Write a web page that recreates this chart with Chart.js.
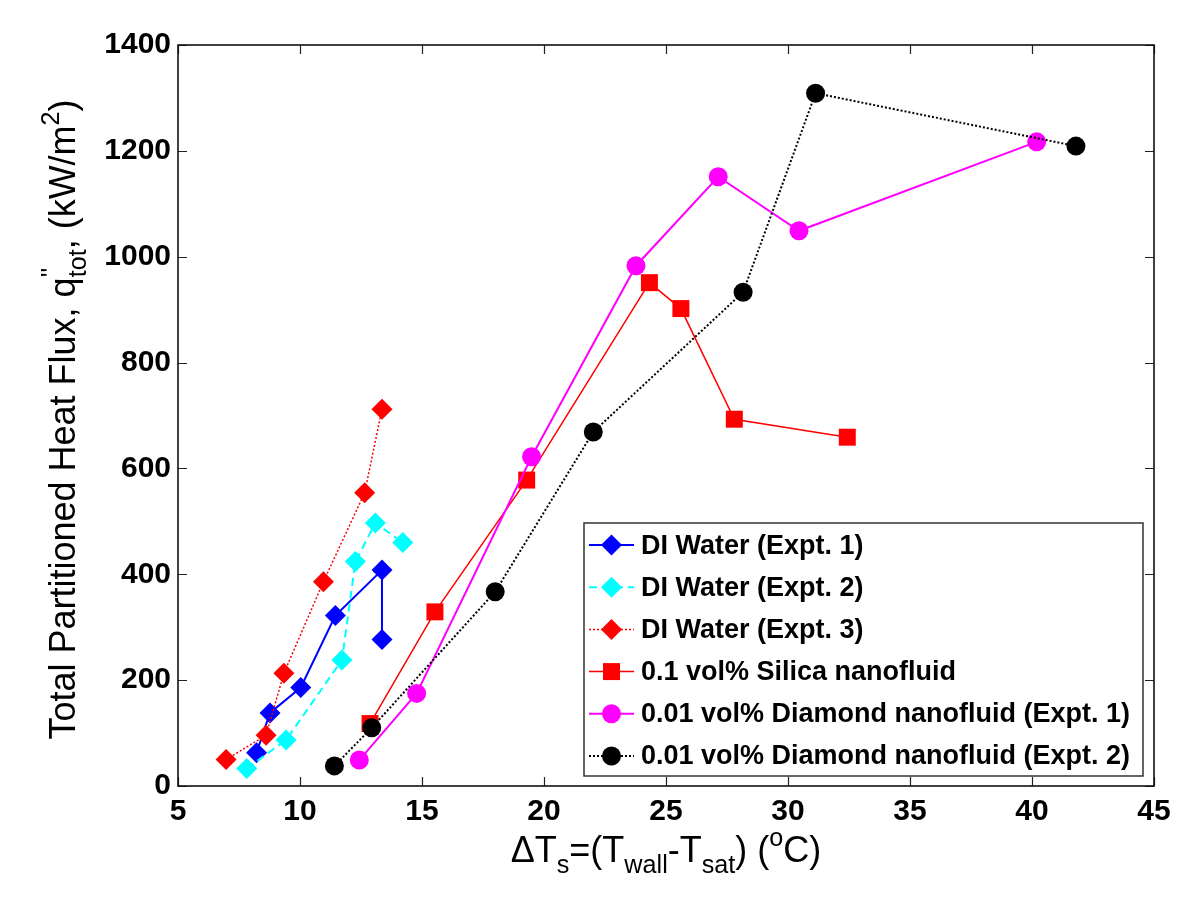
<!DOCTYPE html>
<html><head><meta charset="utf-8">
<script src="https://cdn.jsdelivr.net/npm/chart.js@4.4.0/dist/chart.umd.min.js"></script>
<style>html,body{margin:0;padding:0;background:#fff}#wrap{width:1200px;height:904px;position:relative}</style>
</head><body><div id="wrap"><canvas id="c"></canvas></div>
<script>
const FONT = "'Liberation Sans', Arial, Helvetica, sans-serif";

const seriesNames = [
  'DI Water (Expt. 1)',
  'DI Water (Expt. 2)',
  'DI Water (Expt. 3)',
  '0.1 vol% Silica nanofluid',
  '0.01 vol% Diamond nanofluid (Expt. 1)',
  '0.01 vol% Diamond nanofluid (Expt. 2)'
];
const diWater1X = [8.22, 8.77, 10.03, 11.45, 13.36, 13.36];
const diWater1Y = [63, 138, 186, 322, 408, 277];
const diWater2X = [7.82, 9.43, 11.72, 12.27, 13.09, 14.21];
const diWater2Y = [33, 87, 238, 424, 497, 460];
const diWater3X = [6.97, 8.61, 9.34, 10.96, 12.65, 13.36];
const diWater3Y = [50, 96, 213, 386, 554, 712];
const silicaX = [12.87, 15.53, 19.29, 24.32, 25.61, 27.8, 32.43];
const silicaY = [118, 329, 578, 951, 902, 693, 659];
const diamond1X = [12.43, 14.78, 19.49, 23.77, 27.14, 30.45, 40.19];
const diamond1Y = [49, 175, 622, 983, 1151, 1049, 1217];
const diamond2X = [11.41, 12.94, 18.0, 22.02, 28.16, 31.13, 41.8];
const diamond2Y = [38, 110, 367, 669, 933, 1309, 1209];
const xTicks = [5, 10, 15, 20, 25, 30, 35, 40, 45];
const yTicks = [0, 200, 400, 600, 800, 1000, 1200, 1400];

function pts(xs, ys) { return xs.map((x, i) => ({x: x, y: ys[i]})); }

const styles = [
  {color: '#0000ff', style: 'rectRot', r: 10.5, w: 2, dash: []},
  {color: '#00ffff', style: 'rectRot', r: 10.5, w: 2, dash: [8, 5]},
  {color: '#ff0000', style: 'rectRot', r: 10.5, w: 1.5, dash: [2, 2]},
  {color: '#ff0000', style: 'rect', r: 12, w: 1.5, dash: []},
  {color: '#ff00ff', style: 'circle', r: 9.5, w: 2, dash: []},
  {color: '#000000', style: 'circle', r: 9.5, w: 2, dash: [2, 2]}
];
const allX = [diWater1X, diWater2X, diWater3X, silicaX, diamond1X, diamond2X];
const allY = [diWater1Y, diWater2Y, diWater3Y, silicaY, diamond1Y, diamond2Y];

const datasets = seriesNames.map((name, i) => ({
  label: name,
  data: pts(allX[i], allY[i]),
  showLine: true,
  borderColor: styles[i].color,
  backgroundColor: styles[i].color,
  pointBackgroundColor: styles[i].color,
  pointBorderColor: styles[i].color,
  pointBorderWidth: 0,
  pointStyle: styles[i].style,
  pointRadius: styles[i].r,
  pointHoverRadius: styles[i].r,
  borderWidth: styles[i].w,
  borderDash: styles[i].dash,
  tension: 0,
  order: 6 - i
}));

function drawRich(ctx, segs, f) {
  let x = 0;
  for (const s of segs) {
    if (s.stack) {
      ctx.font = (0.7 * f) + 'px ' + FONT;
      const w1 = ctx.measureText(s.stack[0]).width;
      const w2 = ctx.measureText(s.stack[1]).width;
      ctx.fillText(s.stack[0], x, -0.45 * f);
      ctx.fillText(s.stack[1], x, 0.3 * f);
      x += Math.max(w1, w2);
      continue;
    }
    const small = s.m !== 'n';
    ctx.font = (small ? 0.7 * f : f) + 'px ' + FONT;
    const dy = s.m === 'sub' ? 0.3 * f : (s.m === 'sup' ? -0.45 * f : 0);
    ctx.fillText(s.t, x, dy);
    x += ctx.measureText(s.t).width;
  }
  return x;
}
function richWidth(ctx, segs, f) {
  let x = 0;
  for (const s of segs) {
    if (s.stack) {
      ctx.font = (0.7 * f) + 'px ' + FONT;
      x += Math.max(ctx.measureText(s.stack[0]).width, ctx.measureText(s.stack[1]).width);
      continue;
    }
    ctx.font = (s.m !== 'n' ? 0.7 * f : f) + 'px ' + FONT;
    x += ctx.measureText(s.t).width;
  }
  return x;
}

const xTitle = [
  {t: '\u0394T', m: 'n'}, {t: 's', m: 'sub'}, {t: '=(T', m: 'n'}, {t: 'wall', m: 'sub'},
  {t: '-T', m: 'n'}, {t: 'sat', m: 'sub'}, {t: ') (', m: 'n'}, {t: 'o', m: 'sup'}, {t: 'C)', m: 'n'}
];
const yTitle = [
  {t: 'Total Partitioned Heat Flux, q', m: 'n'}, {stack: ["''", 'tot']}, {t: ', (kW/m', m: 'n'},
  {t: '2', m: 'sup'}, {t: ')', m: 'n'}
];

const framePlugin = {
  id: 'frame',
  afterDraw(chart) {
    const ctx = chart.ctx, a = chart.chartArea;
    const xs = chart.scales.x, ys = chart.scales.y;
    ctx.save();
    ctx.strokeStyle = '#222';
    ctx.lineWidth = 1.2;
    ctx.beginPath();
    const tl = 9;
    xTicks.forEach(v => {
      const p = Math.round(xs.getPixelForValue(v)) + 0.5;
      ctx.moveTo(p, a.bottom); ctx.lineTo(p, a.bottom - tl);
      ctx.moveTo(p, a.top); ctx.lineTo(p, a.top + tl);
    });
    yTicks.forEach(v => {
      const p = Math.round(ys.getPixelForValue(v)) + 0.5;
      ctx.moveTo(a.left, p); ctx.lineTo(a.left + tl, p);
      ctx.moveTo(a.right, p); ctx.lineTo(a.right - tl, p);
    });
    ctx.stroke();
    ctx.lineWidth = 1.6;
    ctx.strokeStyle = '#111';
    ctx.strokeRect(a.left, a.top, a.right - a.left, a.bottom - a.top);

    ctx.fillStyle = '#000';
    ctx.textBaseline = 'alphabetic';
    ctx.textAlign = 'left';
    const f = 36;
    const wx = richWidth(ctx, xTitle, f);
    ctx.save();
    ctx.translate((a.left + a.right) / 2 - wx / 2, 862);
    drawRich(ctx, xTitle, f);
    ctx.restore();
    const wy = richWidth(ctx, yTitle, f);
    ctx.save();
    ctx.translate(75, (a.top + a.bottom) / 2 + wy / 2 + 4);
    ctx.rotate(-Math.PI / 2);
    drawRich(ctx, yTitle, f);
    ctx.restore();

    const L = 584, T = 523, R = 1143, B = 776;
    ctx.fillStyle = '#fff';
    ctx.fillRect(L, T, R - L, B - T);
    ctx.lineWidth = 1.5;
    ctx.strokeStyle = '#333';
    ctx.strokeRect(L, T, R - L, B - T);
    const rowH = (B - T) / 6;
    chart.data.datasets.forEach((ds, i) => {
      const st = styles[i];
      const cy = T + rowH * (i + 0.5) + 1;
      ctx.save();
      ctx.strokeStyle = st.color;
      ctx.lineWidth = st.w;
      ctx.setLineDash(st.dash);
      ctx.beginPath();
      ctx.moveTo(589, cy); ctx.lineTo(634, cy);
      ctx.stroke();
      ctx.setLineDash([]);
      ctx.fillStyle = st.color;
      Chart.helpers.drawPoint(ctx, {pointStyle: st.style, radius: st.r, rotation: 0, borderWidth: 0}, 611.5, cy);
      ctx.restore();
      ctx.fillStyle = '#000';
      ctx.font = 'bold 27px ' + FONT;
      ctx.textBaseline = 'middle';
      ctx.fillText(ds.label, 641, cy + 1);
    });
    ctx.restore();
  }
};

new Chart(document.getElementById('c'), {
  type: 'scatter',
  data: {datasets: datasets},
  options: {
    responsive: true,
    maintainAspectRatio: false,
    animation: false,
    events: [],
    layout: {padding: {left: 0, top: 45, right: 46, bottom: 0}},
    plugins: {legend: {display: false}, tooltip: {enabled: false}, title: {display: false}},
    scales: {
      x: {
        type: 'linear', min: 5, max: 45,
        afterBuildTicks(s) { s.ticks = xTicks.map(v => ({value: v})); },
        afterFit(s) { s.height = 118; },
        grid: {display: false, drawTicks: false},
        border: {display: false},
        ticks: {color: '#000', padding: 8, maxRotation: 0, autoSkip: false,
          callback: v => String(v),
          font: {family: FONT, size: 30, weight: 'bold'}}
      },
      y: {
        type: 'linear', min: 0, max: 1400,
        afterBuildTicks(s) { s.ticks = yTicks.map(v => ({value: v})); },
        afterFit(s) { s.width = 178; },
        grid: {display: false, drawTicks: false},
        border: {display: false},
        ticks: {color: '#000', padding: 7, autoSkip: false,
          callback: v => String(v),
          font: {family: FONT, size: 30, weight: 'bold'}}
      }
    }
  },
  plugins: [framePlugin]
});
</script></body></html>
